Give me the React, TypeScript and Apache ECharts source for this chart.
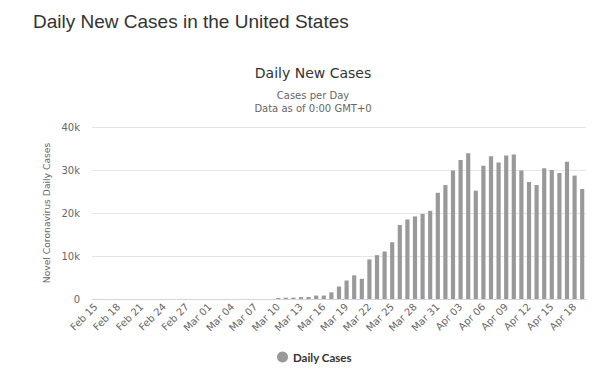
import React, { useEffect, useRef } from "react";
import * as echarts from "echarts";

const categories: string[] = [
  "Feb 15", "Feb 16", "Feb 17", "Feb 18", "Feb 19", "Feb 20", "Feb 21", "Feb 22", "Feb 23", "Feb 24",
  "Feb 25", "Feb 26", "Feb 27", "Feb 28", "Feb 29", "Mar 01", "Mar 02", "Mar 03", "Mar 04", "Mar 05",
  "Mar 06", "Mar 07", "Mar 08", "Mar 09", "Mar 10", "Mar 11", "Mar 12", "Mar 13", "Mar 14", "Mar 15",
  "Mar 16", "Mar 17", "Mar 18", "Mar 19", "Mar 20", "Mar 21", "Mar 22", "Mar 23", "Mar 24", "Mar 25",
  "Mar 26", "Mar 27", "Mar 28", "Mar 29", "Mar 30", "Mar 31", "Apr 01", "Apr 02", "Apr 03", "Apr 04",
  "Apr 05", "Apr 06", "Apr 07", "Apr 08", "Apr 09", "Apr 10", "Apr 11", "Apr 12", "Apr 13", "Apr 14",
  "Apr 15", "Apr 16", "Apr 17", "Apr 18", "Apr 19",
];

const dailyCases: number[] = [
  0, 0, 0, 0, 0, 0, 0, 0, 0, 0,
  0, 0, 0, 0, 0, 0, 0, 0, 0, 0,
  0, 0, 0, 0, 250, 300, 320, 450, 480, 800,
  800, 1550, 2900, 4300, 5500, 4700, 9200, 10200, 11050, 13200,
  17200, 18500, 19200, 19800, 20500, 24700, 26500, 29900, 32300, 33900,
  25200, 31000, 33200, 31750, 33400, 33600, 29900, 27200, 26500, 30400,
  30000, 29300, 31900, 28700, 25600,
];

const yTicks = { min: 0, max: 40000, interval: 10000 };

export default function App() {
  const ref = useRef<HTMLDivElement>(null);
  useEffect(() => {
    document.body.style.margin = "0";
    const chart = echarts.init(ref.current!, undefined, { renderer: "svg" });
    chart.setOption({
      animation: false,
      backgroundColor: "#ffffff",
      title: [
        {
          text: "Daily New Cases in the United States",
          left: 33,
          top: 12,
          padding: 0,
          textStyle: { fontFamily: "Liberation Sans", fontSize: 19, fontWeight: "normal", color: "#333333" },
        },
        {
          text: "Daily New Cases",
          left: 313,
          textAlign: "center",
          top: 66,
          padding: 0,
          textStyle: { fontFamily: "DejaVu Sans", fontSize: 14, fontWeight: "normal", color: "#333333" },
        },
        {
          text: "Cases per Day\nData as of 0:00 GMT+0",
          left: 313,
          textAlign: "center",
          top: 89,
          padding: 0,
          textStyle: { fontFamily: "DejaVu Sans", fontSize: 10, fontWeight: "normal", color: "#666666", lineHeight: 13 },
        },
      ],
      legend: {
        bottom: 8,
        left: 277,
        icon: "circle",
        itemWidth: 11,
        itemHeight: 11,
        itemGap: 6,
        padding: 0,
        data: ["Daily Cases"],
        textStyle: { fontFamily: "Lato", fontSize: 11.5, fontWeight: "bold", color: "#333333" },
      },
      grid: { left: 92, right: 14, top: 127, bottom: 72, containLabel: false },
      xAxis: {
        type: "category",
        data: categories,
        axisLine: { lineStyle: { color: "#ccd6eb" } },
        axisTick: { show: false },
        axisLabel: {
          interval: 2,
          rotate: 45,
          fontFamily: "DejaVu Sans",
          fontSize: 10,
          color: "#666666",
          margin: 6,
        },
      },
      yAxis: {
        type: "value",
        min: yTicks.min,
        max: yTicks.max,
        interval: yTicks.interval,
        name: "Novel Coronavirus Daily Cases",
        nameLocation: "middle",
        nameGap: 32,
        nameRotate: 90,
        nameTextStyle: { fontFamily: "DejaVu Sans", fontSize: 9.2, color: "#666666" },
        axisLabel: {
          formatter: (v: number) => (v === 0 ? "0" : v / 1000 + "k"),
          fontFamily: "DejaVu Sans",
          fontSize: 10,
          color: "#666666",
          margin: 12,
        },
        splitLine: { lineStyle: { color: "#e6e6e6" } },
      },
      series: [
        {
          name: "Daily Cases",
          type: "bar",
          data: dailyCases,
          barCategoryGap: "45%",
          itemStyle: { color: "#999999" },
        },
      ],
    });
    return () => chart.dispose();
  }, []);
  return <div ref={ref} style={{ width: 600, height: 371 }} />;
}
